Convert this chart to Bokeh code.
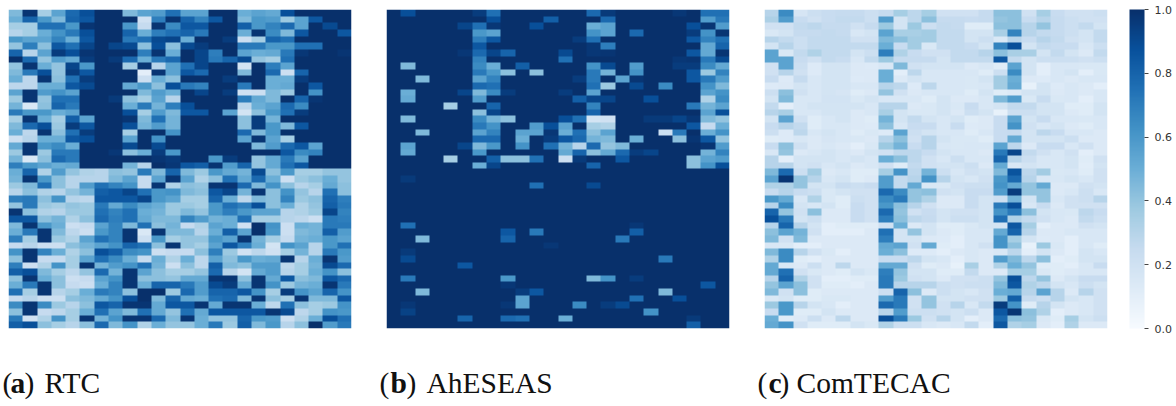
import numpy as np
from bokeh.embed import file_html
from bokeh.resources import INLINE
from bokeh.plotting import figure
from bokeh.layouts import row, column
from bokeh.models import LinearColorMapper, ColorBar, FixedTicker, PrintfTickFormatter, Label, Range1d
from bokeh.palettes import Blues256

N_ROWS = 48
N_COLS = 24
TICKS = [0.0, 0.2, 0.4, 0.6, 0.8, 1.0]

# values in percent, top row first
RTC = [
[45,98,35,55,78,88,100,100,45,55,58,75,55,55,100,100,50,55,52,88,100,100,100,100],
[50,80,60,45,80,85,100,100,100,20,70,98,80,68,85,100,45,60,58,38,55,85,100,100],
[35,35,75,75,60,98,100,100,60,25,98,65,85,85,100,100,82,60,68,78,55,100,90,100],
[30,35,50,62,72,88,100,100,80,50,70,75,80,72,100,100,50,98,65,45,85,100,100,85],
[60,55,55,68,50,85,100,100,72,75,90,92,50,100,100,95,22,35,80,75,100,100,100,100],
[40,70,42,85,75,92,100,92,90,42,88,42,90,95,100,100,72,72,60,60,75,75,100,100],
[80,30,55,95,88,98,100,100,100,70,98,50,100,92,70,100,55,50,52,72,97,100,100,98],
[100,78,40,58,52,95,100,96,78,50,72,78,100,92,72,80,90,40,35,75,100,100,100,100],
[40,98,50,40,92,60,100,100,35,98,30,55,75,92,100,100,18,100,70,55,100,100,100,100],
[45,72,88,40,95,85,100,100,100,10,98,55,85,78,100,100,45,100,78,22,80,100,100,100],
[50,28,98,42,75,95,100,100,100,22,50,42,100,100,100,95,100,100,50,50,95,100,100,100],
[28,28,50,50,85,90,100,100,52,60,42,88,72,68,100,100,72,100,50,52,100,85,100,100],
[55,98,58,62,55,100,100,100,100,45,58,50,100,92,100,95,20,22,45,38,100,62,100,100],
[38,98,40,75,75,100,100,96,42,35,55,30,100,100,100,100,70,52,45,100,80,98,100,100],
[48,15,42,80,72,100,100,100,50,72,48,70,88,100,100,100,28,50,55,78,65,100,100,100],
[72,60,60,50,55,100,100,100,88,35,58,45,85,85,100,55,18,42,60,75,95,100,100,100],
[35,98,50,35,82,55,100,100,98,45,75,48,100,100,100,100,42,95,48,100,100,100,100,100],
[45,78,88,38,95,85,100,100,88,48,58,48,100,100,100,100,42,95,60,45,85,100,100,100],
[50,28,98,42,75,95,100,100,35,100,100,62,100,100,100,100,78,45,60,100,100,100,100,100],
[22,30,50,50,85,88,100,100,55,100,62,100,100,100,100,100,55,98,55,35,100,100,100,100],
[52,98,60,65,50,100,100,100,90,100,90,100,100,100,100,100,100,45,58,78,85,55,100,100],
[38,98,38,72,72,100,100,97,42,50,95,60,100,100,100,100,100,100,100,85,65,68,100,100],
[48,15,42,78,72,100,100,100,100,100,98,96,100,100,60,95,100,40,52,72,55,100,100,100],
[70,60,55,50,52,100,100,100,48,30,100,97,85,82,98,58,80,40,52,75,85,100,100,100],
[50,80,32,58,40,32,30,42,40,72,45,80,45,38,60,52,48,90,42,60,35,35,40,40],
[48,98,60,42,30,30,30,45,55,25,55,98,55,32,42,75,52,78,50,22,38,42,50,40],
[38,45,75,42,30,58,75,68,62,25,98,32,42,40,98,98,78,45,62,42,30,35,52,42],
[30,42,32,30,40,48,82,85,92,75,60,62,45,42,85,92,48,98,42,62,40,30,75,42],
[70,72,42,62,30,28,85,85,85,92,60,55,35,35,80,50,28,45,42,68,38,42,80,70],
[40,72,38,35,40,38,72,52,65,55,50,38,38,35,60,75,70,88,42,50,32,40,82,72],
[98,42,32,30,38,38,75,68,75,50,48,38,45,40,60,70,60,55,55,30,32,38,92,68],
[85,85,42,48,32,42,78,70,75,52,45,45,68,58,48,50,75,35,35,30,28,22,72,70],
[45,98,60,50,22,25,55,68,45,75,42,48,25,32,55,50,20,100,62,22,50,48,72,72],
[50,72,98,45,28,22,60,68,98,15,98,45,45,30,50,82,55,100,60,22,45,48,82,58],
[70,35,98,38,32,55,75,68,98,22,60,35,40,40,60,55,98,48,35,25,48,50,60,55],
[25,30,22,22,42,48,55,62,80,75,42,98,40,35,55,85,70,50,18,62,55,30,60,75],
[62,98,68,50,32,42,88,82,65,62,22,25,25,42,70,38,20,28,20,35,48,30,72,60],
[42,98,25,25,35,55,75,65,50,25,50,32,50,28,55,42,60,50,52,98,30,50,98,58],
[70,22,32,62,35,98,48,58,62,75,48,22,42,28,82,45,42,58,58,28,35,48,90,78],
[82,88,45,35,28,40,78,48,98,55,42,35,35,40,78,30,18,52,58,30,35,50,62,42],
[42,98,50,42,22,25,55,62,98,42,42,40,52,52,98,98,42,98,52,85,42,45,85,78],
[50,72,98,42,25,22,50,68,98,50,80,80,72,58,90,95,52,98,62,38,48,50,98,72],
[75,35,98,30,35,50,72,68,42,100,100,38,78,58,80,80,85,62,35,95,62,55,80,62],
[25,30,22,22,42,45,52,62,88,100,45,80,52,50,75,78,45,98,42,35,98,45,45,85],
[65,98,65,38,30,42,85,80,98,98,52,85,85,98,52,98,98,50,28,75,42,35,38,62],
[42,98,25,28,35,50,75,55,45,75,52,40,75,52,85,85,85,85,98,90,28,35,62,60],
[72,20,32,62,35,98,48,62,98,98,78,45,98,50,40,40,80,60,58,22,32,50,88,75],
[82,88,42,35,30,42,78,45,62,32,50,40,40,50,72,38,82,45,60,30,42,100,58,72],
]

# AhESEAS: nearly all cells are 100; only the others are listed, row -> {column: percent}
AHESEAS_BASE = 100
AHESEAS_CELLS = {
0:{1:88,6:95,7:75,14:78,15:96,20:97,22:75,23:75},
1:{7:88,11:82,15:78,22:58,23:72},
2:{5:92,6:75,7:97,10:88,14:50,15:55,21:88,22:98,23:58},
3:{6:60,7:55,14:62,15:55,17:78,21:95,22:62,23:98},
4:{6:70,7:85,13:95,14:75,21:85,22:68,23:75},
5:{6:85,14:97,15:70,22:52,23:80},
6:{5:97,6:78,7:92,8:80,12:90,14:97,15:98,21:85,22:52,23:98},
7:{6:68,12:75,20:97,21:98,22:72,23:90},
8:{1:45,6:65,7:50,9:82,14:62,15:90,17:58,20:95,21:95,22:65,23:52},
9:{6:72,7:60,8:42,10:42,14:72,15:48,17:62,21:85,22:38,23:68},
10:{2:45,6:55,7:68,13:95,14:72,16:55,17:98,21:85,22:72,23:58},
11:{6:78,7:75,14:75,15:38,17:90,19:65,22:62,23:45},
12:{1:50,5:92,6:45,7:65,8:95,12:95,14:55,22:55,23:62},
13:{1:52,6:58,13:82,14:92,15:92,18:88,22:32,23:65},
14:{4:35,7:80,14:68,21:72,22:48,23:55},
15:{6:42,7:92,14:80,22:55,23:88},
16:{1:45,6:65,7:48,8:42,12:88,13:75,14:18,15:20,18:96,19:96,20:92,21:97,22:45,23:40},
17:{6:72,7:62,10:58,11:88,12:55,14:35,15:32,21:85,22:25,23:50},
18:{2:45,6:55,7:68,9:55,10:55,11:97,12:50,13:75,14:42,15:55,19:22,20:72,22:50,23:62},
19:{6:78,7:78,9:50,11:95,12:85,13:78,14:48,15:45,17:50,20:42,21:98,22:85,23:40},
20:{1:55,5:92,6:45,7:60,9:62,11:75,12:48,13:30,14:78,15:40,16:45,22:98,23:58},
21:{1:52,6:60,12:52,13:80,14:42,15:52,16:78,17:95,18:92,22:48,23:68},
22:{4:35,7:82,8:42,9:42,10:75,12:22,13:96,16:85,21:42,22:55,23:58},
23:{6:50,7:92,14:80,21:42,22:62,23:88},
25:{1:96},
26:{10:75,14:90},
32:{1:75,17:97},
33:{8:85,10:72,17:82},
34:{2:45,8:80,16:72},
35:{11:97},
36:{1:96},
37:{1:90,19:72},
38:{5:85},
40:{1:72,8:60,14:45,15:62,17:95},
41:{8:97,22:85},
42:{2:45,9:95,10:85,19:45},
43:{9:55,17:75,20:88},
44:{1:97,8:97,9:55,13:65,15:95,16:90},
45:{1:93,18:62},
46:{5:80,8:78,9:75,12:50,21:96},
47:{21:82},
}

COMTECAC = [
[30,65,17,22,24,25,25,22,25,35,28,35,20,20,20,25,42,42,20,35,24,20,20,22],
[33,58,24,20,24,26,26,22,58,18,28,42,25,25,24,25,40,42,24,30,25,22,20,20],
[20,20,26,28,25,25,20,25,38,18,38,22,26,25,12,12,42,42,30,40,25,22,26,18],
[15,18,25,25,26,25,16,18,55,34,34,36,26,26,18,18,34,68,30,26,25,22,18,26],
[30,26,22,26,26,26,20,20,45,42,36,36,26,26,18,22,15,30,24,30,26,20,18,26],
[18,30,22,26,26,26,26,26,50,24,36,15,26,26,24,18,68,88,18,26,24,24,16,22],
[55,15,26,32,26,26,18,22,70,32,24,20,20,26,26,30,42,34,34,18,26,18,14,26],
[55,55,24,20,26,24,16,26,38,25,25,25,18,26,26,26,85,26,18,22,22,22,20,22],
[20,55,22,13,18,18,14,13,16,45,20,18,18,18,14,16,12,55,18,10,16,16,15,15],
[20,30,20,13,18,18,14,14,50,10,28,16,16,16,16,12,22,65,18,10,16,18,10,15],
[24,13,25,16,18,18,13,14,50,14,18,16,16,16,15,18,36,50,14,13,16,14,16,16],
[13,14,18,16,18,18,16,16,30,28,13,28,16,16,15,16,36,52,8,18,13,16,14,10],
[22,42,20,16,18,17,12,14,40,20,14,16,16,16,12,18,12,14,18,18,14,16,14,16],
[18,45,16,16,19,19,15,18,16,16,16,12,18,14,14,16,45,58,15,24,15,16,10,16],
[26,10,16,18,18,18,18,16,30,30,14,15,18,15,24,16,18,26,26,18,18,12,12,18],
[30,34,16,16,18,18,14,16,34,18,15,15,18,14,22,18,8,22,22,18,18,14,12,18],
[18,55,20,12,16,18,14,12,48,18,26,18,16,18,12,14,24,55,18,24,16,16,15,16],
[24,30,26,12,16,16,14,13,42,16,24,24,16,24,13,14,24,62,20,16,18,14,12,16],
[22,13,28,16,18,16,12,15,13,55,22,18,16,16,12,16,24,25,18,28,24,16,16,14],
[12,13,16,14,17,16,15,14,30,42,20,30,18,15,15,12,24,52,18,18,18,22,14,14],
[24,42,20,14,16,14,10,15,38,48,24,30,16,15,16,16,55,28,14,24,24,16,20,14],
[16,40,14,16,18,16,14,18,20,28,28,24,18,16,16,14,72,92,26,20,16,20,10,14],
[30,10,18,18,18,16,18,16,50,42,28,20,16,22,16,16,80,30,22,16,16,18,12,20],
[30,30,18,20,16,18,14,16,20,12,26,20,18,18,22,14,52,16,18,16,16,18,11,18],
[45,78,22,36,14,16,12,12,35,62,28,48,22,16,20,18,45,86,28,36,15,16,12,20],
[55,98,40,30,16,18,12,14,58,26,30,62,30,18,16,20,60,78,30,16,16,18,16,20],
[32,32,40,18,18,24,22,24,58,26,52,15,15,20,22,22,62,52,40,52,14,14,20,18],
[24,30,24,22,15,18,20,20,78,65,40,42,20,18,24,24,58,95,40,40,14,16,22,16],
[60,52,16,32,15,12,22,20,65,72,40,32,14,14,24,18,22,48,18,40,16,20,22,30],
[30,65,18,16,18,12,24,20,60,42,30,20,14,14,24,18,72,88,16,24,14,20,20,20],
[80,40,20,42,14,14,24,20,78,40,20,24,18,20,20,18,62,72,42,18,16,15,28,24],
[88,72,18,22,14,14,24,20,70,42,28,25,18,22,22,18,76,32,26,20,16,14,26,22],
[30,80,30,18,10,12,12,12,20,50,14,18,12,12,15,18,18,85,35,10,14,14,20,18],
[42,55,48,20,10,10,10,14,75,18,40,18,14,12,16,16,52,80,30,14,14,16,16,16],
[45,20,45,14,14,14,14,14,70,18,18,14,13,10,16,16,62,35,18,13,14,10,16,16],
[16,15,10,10,14,14,14,14,52,55,20,52,12,10,16,20,62,42,8,38,15,10,16,12],
[45,65,30,20,15,10,14,14,50,42,13,13,10,14,16,14,16,28,10,18,14,10,18,16],
[32,65,12,10,14,14,14,14,24,24,28,18,16,10,16,14,58,45,28,42,10,12,18,18],
[52,15,14,22,14,28,14,14,52,52,20,12,14,8,34,14,32,50,40,12,12,10,16,24],
[52,75,20,15,14,12,18,15,70,40,18,18,12,12,26,14,14,35,35,15,12,14,16,16],
[30,80,32,20,10,10,12,12,72,38,20,18,14,20,20,22,40,88,28,40,14,18,24,24],
[40,55,42,20,12,12,10,14,72,30,30,30,22,20,22,22,45,85,32,28,18,16,22,18],
[45,20,42,12,14,14,14,14,22,80,42,14,22,18,16,20,50,52,30,55,30,14,30,20],
[15,18,12,12,15,15,14,14,58,72,20,40,18,18,20,20,38,82,25,22,30,18,16,20],
[38,60,30,18,16,10,14,14,78,72,20,40,20,30,16,26,95,62,12,30,18,14,16,20],
[24,60,12,12,18,14,14,14,30,58,22,22,20,18,22,14,85,98,42,32,10,14,16,20],
[50,12,14,22,14,28,14,14,88,72,38,20,30,18,10,14,78,42,40,15,12,35,18,22],
[52,62,20,12,12,12,18,15,32,22,22,16,14,16,26,10,85,32,35,14,10,32,14,14],
]

CAPTIONS = [("(", "a", ")", "RTC"), ("(", "b", ")", "AhESEAS"), ("(", "c", ")", "ComTECAC")]

ahe = np.full((N_ROWS, N_COLS), AHESEAS_BASE, dtype=float)
for r, cells in AHESEAS_CELLS.items():
    for c, v in cells.items():
        ahe[r, c] = v

mapper = LinearColorMapper(palette=list(Blues256[::-1]), low=0, high=1)


def heat(values, width, left, right):
    p = figure(width=width, height=340, x_range=Range1d(0, N_COLS), y_range=Range1d(0, N_ROWS),
               x_axis_location=None, y_axis_location=None, toolbar_location=None,
               output_backend="svg", min_border_left=left, min_border_right=right,
               min_border_top=9, min_border_bottom=12, outline_line_color=None)
    p.grid.visible = False
    arr = np.flipud(np.asarray(values, dtype=float)) / 100.0
    p.image(image=[arr], x=0, y=0, dw=N_COLS, dh=N_ROWS, color_mapper=mapper)
    return p


pa = heat(RTC, 386, 8, 35)
pb = heat(ahe, 378, 0, 35)
pc = heat(COMTECAC, 410, 0, 67)

cb = ColorBar(color_mapper=mapper, ticker=FixedTicker(ticks=TICKS),
              formatter=PrintfTickFormatter(format="%.1f"), width=15, height=319,
              location=(365, 0), padding=0, margin=0, major_tick_in=0, major_tick_out=4,
              major_tick_line_color="#444444", bar_line_color=None, background_fill_alpha=0,
              border_line_color=None,
              major_label_text_font="DejaVu Sans", major_label_text_font_size="11px",
              major_label_text_color="#333333", label_standoff=6)
pc.add_layout(cb)

cap = figure(width=1176, height=64, x_range=Range1d(0, 1176), y_range=Range1d(0, 64),
             x_axis_location=None, y_axis_location=None, toolbar_location=None,
             output_backend="svg", min_border=0, outline_line_color=None)
cap.grid.visible = False
cap.line([0, 1], [0, 0], line_alpha=0)
cap_x = [(2, 10, 24, 44), (379, 390, 406, 426), (757, 768, 779, 796)]
for parts, xs in zip(CAPTIONS, cap_x):
    for i, (t, x) in enumerate(zip(parts, xs)):
        cap.add_layout(Label(x=x, y=22, x_units="screen", y_units="screen", text=t,
                             text_font="Liberation Serif", text_font_size="29.5px",
                             text_font_style="bold" if i == 1 else "normal",
                             text_color="#111111", text_baseline="alphabetic"))

layout = column(row(pa, pb, pc, spacing=0), cap, spacing=0)
open("out.html", "w").write(file_html(layout, INLINE))
